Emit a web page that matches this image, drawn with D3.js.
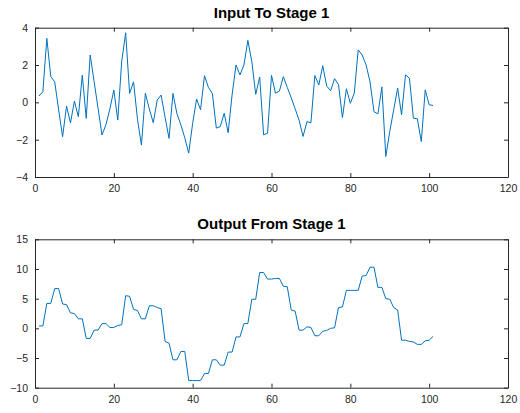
<!DOCTYPE html>
<html><head><meta charset="utf-8">
<script src="https://cdn.jsdelivr.net/npm/d3@7"></script>
<style>body{margin:0;background:#fff}svg{display:block}text{font-family:"Liberation Sans",Arial,sans-serif}</style>
</head><body><svg id="c" width="520" height="413"></svg>
<script>
// ---- data ----
const xTicks = [0, 20, 40, 60, 80, 100, 120];
const inputTicks = [-4, -2, 0, 2, 4];
const outputTicks = [-10, -5, 0, 5, 10, 15];
const titles = ["Input To Stage 1", "Output From Stage 1"];

const inputValues = [
  0.34, 0.57, 3.43, 1.38, 1.1, -0.4, -1.84, -0.2, -1.1, 0.07,
  -0.77, 1.46, -0.86, 2.54, 1.11, -0.32, -1.75, -1.2, -0.35, 0.66,
  -0.95, 2.2, 3.73, 0.48, 1.1, -0.9, -2.29, 0.48, -0.35, -1.09,
  0.12, 0.39, -0.8, -1.93, 0.48, -0.6, -1.2, -1.9, -2.72, -1.12,
  0.18, -0.4, 1.43, 0.8, 0.47, -1.38, -1.3, -0.58, -1.63, 0.4,
  2.0, 1.47, 2.0, 3.32, 2.2, 0.43, 1.36, -1.74, -1.65, 1.45,
  0.49, 0.6, 1.38, 0.8, 0.25, -0.35, -0.95, -1.83, -1.03, -1.1,
  1.44, 0.93, 1.96, 0.88, 0.62, 1.27, 0.95, -0.82, 0.73, -0.05,
  0.49, 2.81, 2.54, 2.0, 1.1, -0.5, -0.62, 0.83, -2.9, -1.56,
  -0.4, 0.76, -0.67, 1.47, 1.29, -0.85, -0.88, -2.1, 0.67, -0.13,
  -0.17
];
const outputValues = [
  0.4, 0.4, 4.2, 4.2, 6.7, 6.7, 4.1, 4.0, 2.6, 2.5,
  1.6, 1.6, -1.7, -1.7, -0.3, -0.3, 0.8, 0.8, 0.15, 0.15,
  0.5, 0.6, 5.5, 5.4, 3.2, 3.0, 1.6, 1.6, 3.8, 3.8,
  3.5, 3.3, -2.2, -2.5, -5.3, -5.3, -3.9, -3.9, -8.8, -8.8,
  -8.8, -8.8, -7.6, -7.6, -5.3, -5.3, -6.2, -6.2, -4.0, -4.0,
  -1.45, -1.45, 0.8, 0.8, 4.9, 4.9, 9.4, 9.4, 8.3, 8.3,
  8.4, 8.4, 7.1, 7.0, 3.1, 2.9, -0.3, -0.3, 0.25, 0.15,
  -1.25, -1.25, -0.5, -0.35, 0.0, 0.1, 3.5, 3.6, 6.4, 6.4,
  6.4, 6.4, 8.8, 8.9, 10.3, 10.3, 6.9, 6.9, 5.0, 4.9,
  3.5, 3.1, -2.0, -2.0, -2.2, -2.3, -2.7, -2.7, -2.1, -2.0,
  -1.35
];

// ---- drawing ----
const svg = d3.select("#c");
const axisColor = "#262626";
const lineColor = "#0072BD";
const left = 35, right = 508;

function panel(values, yTicks, title, top, bottom) {
  const x = d3.scaleLinear().domain([xTicks[0], xTicks[xTicks.length - 1]]).range([left, right]);
  const y = d3.scaleLinear().domain([yTicks[0], yTicks[yTicks.length - 1]]).range([bottom, top]);
  const g = svg.append("g");
  const tl = 4;

  const xb = g.append("g").attr("transform", `translate(0,${bottom})`)
    .call(d3.axisBottom(x).tickValues(xTicks).tickSize(-tl).tickPadding(8).tickSizeOuter(0));
  const xt = g.append("g").attr("transform", `translate(0,${top})`)
    .call(d3.axisTop(x).tickValues(xTicks).tickSize(-tl).tickFormat("").tickSizeOuter(0));
  const yl = g.append("g").attr("transform", `translate(${left},0)`)
    .call(d3.axisLeft(y).tickValues(yTicks).tickSize(-tl).tickPadding(7).tickSizeOuter(0));
  const yr = g.append("g").attr("transform", `translate(${right},0)`)
    .call(d3.axisRight(y).tickValues(yTicks).tickSize(-tl).tickFormat("").tickSizeOuter(0));
  [xb, xt, yl, yr].forEach(a => {
    a.select(".domain").attr("stroke", axisColor).attr("stroke-width", 1);
    a.selectAll(".tick line").attr("stroke", axisColor).attr("stroke-width", 1);
    a.selectAll(".tick text").attr("fill", axisColor).style("font-size", "10.5px")
      .style("font-family", '"Liberation Sans", Arial, sans-serif');
  });

  const line = d3.line().x((d, i) => x(i + 1)).y(d => y(d));
  g.append("path").datum(values).attr("d", line)
    .attr("fill", "none").attr("stroke", lineColor).attr("stroke-width", 1)
    .attr("stroke-linejoin", "round");

  g.append("text").attr("x", (left + right) / 2).attr("y", top - 10)
    .attr("text-anchor", "middle").attr("font-weight", "bold")
    .style("font-size", "15px").attr("fill", "#000").text(title);
}

panel(inputValues, inputTicks, titles[0], 27.7, 177);
panel(outputValues, outputTicks, titles[1], 239.3, 387.7);
</script></body></html>
